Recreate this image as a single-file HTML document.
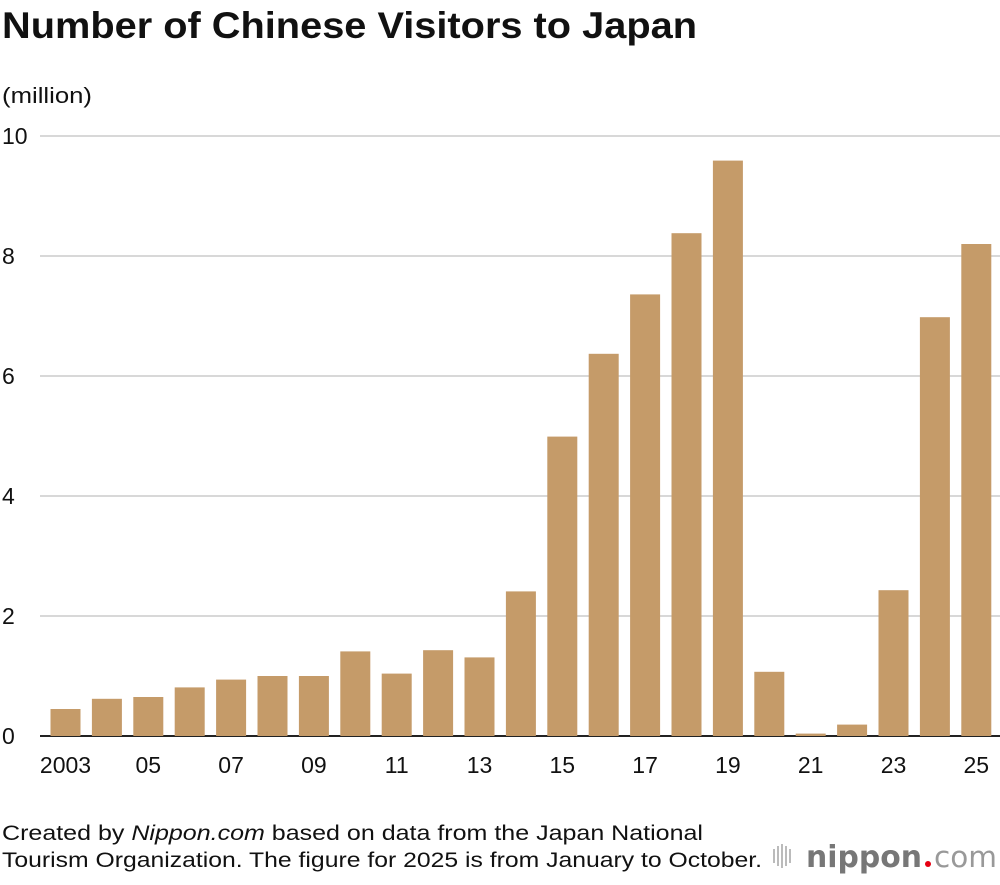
<!DOCTYPE html>
<html><head><meta charset="utf-8"><style>
body{margin:0;background:#fff;width:1000px;height:880px;overflow:hidden;font-family:"Liberation Sans",sans-serif;}
</style></head><body>
<svg width="1000" height="880" xmlns="http://www.w3.org/2000/svg">
<text x="2" y="38" font-size="37" font-weight="bold" fill="#111" textLength="695" lengthAdjust="spacingAndGlyphs">Number of Chinese Visitors to Japan</text>
<text x="2" y="103" font-size="22" fill="#111" textLength="90" lengthAdjust="spacingAndGlyphs">(million)</text>
<g id="grid"></g><g id="bars"></g><g id="xl"></g>
<text x="2" y="840" font-size="21" fill="#111" textLength="701" lengthAdjust="spacingAndGlyphs">Created by <tspan font-style="italic">Nippon.com</tspan> based on data from the Japan National</text>
<text x="2" y="867" font-size="21" fill="#111" textLength="760" lengthAdjust="spacingAndGlyphs">Tourism Organization. The figure for 2025 is from January to October.</text>
<g>
<g fill="#bbb"><rect x="773" y="849" width="2" height="14"/><rect x="777" y="846" width="2" height="20"/><rect x="781" y="844" width="2" height="24"/><rect x="785" y="846" width="2" height="20"/><rect x="789" y="849" width="2" height="14"/></g>
<text x="806" y="867" font-size="30" font-weight="bold" fill="#777" font-family="DejaVu Sans, sans-serif" textLength="116" lengthAdjust="spacingAndGlyphs">nippon</text>
<circle cx="928" cy="864" r="3" fill="#e60012"/>
<text x="934" y="867" font-size="29" fill="#999" font-family="DejaVu Sans, sans-serif" textLength="63" lengthAdjust="spacingAndGlyphs">com</text>
</g>
</svg>
<script>
const years=["2003","04","05","06","07","08","09","10","11","12","13","14","15","16","17","18","19","20","21","22","23","24","25"];
const values=[0.45,0.62,0.65,0.81,0.94,1.0,1.0,1.41,1.04,1.43,1.31,2.41,4.99,6.37,7.36,8.38,9.59,1.07,0.04,0.19,2.43,6.98,8.2];
const yTicks=[0,2,4,6,8,10];
const xLabelYears=["2003","05","07","09","11","13","15","17","19","21","23","25"];
const NS="http://www.w3.org/2000/svg";
const y=v=>736-v*60;
const x=i=>65.5+i*41.4;
const grid=document.getElementById('grid'),bars=document.getElementById('bars'),xl=document.getElementById('xl');
yTicks.forEach(t=>{
 const l=document.createElementNS(NS,'line');
 l.setAttribute('x1',40);l.setAttribute('x2',1000);l.setAttribute('y1',y(t));l.setAttribute('y2',y(t));
 l.setAttribute('stroke',t===0?'#222':'#ccc');l.setAttribute('stroke-width',t===0?2:1.5);
 
 
 grid.appendChild(l);
 const tx=document.createElementNS(NS,'text');
 tx.setAttribute('x',2);tx.setAttribute('y',y(t)+8);tx.setAttribute('font-size',23);tx.setAttribute('fill','#111');
 tx.textContent=t;
 
 
 grid.appendChild(tx);
});
values.forEach((v,i)=>{
 const r=document.createElementNS(NS,'rect');
 r.setAttribute('x',x(i)-15);r.setAttribute('width',30);r.setAttribute('y',y(v));r.setAttribute('height',736-y(v));
 r.setAttribute('fill','#c59b69');
 
 
 bars.appendChild(r);
});
xLabelYears.forEach(lab=>{
 const i=years.indexOf(lab);
 const tx=document.createElementNS(NS,'text');
 tx.setAttribute('x',x(i));tx.setAttribute('y',773);tx.setAttribute('font-size',23);tx.setAttribute('fill','#111');tx.setAttribute('text-anchor','middle');
 tx.textContent=lab;
 
 
 xl.appendChild(tx);
});
</script>
</body></html>
